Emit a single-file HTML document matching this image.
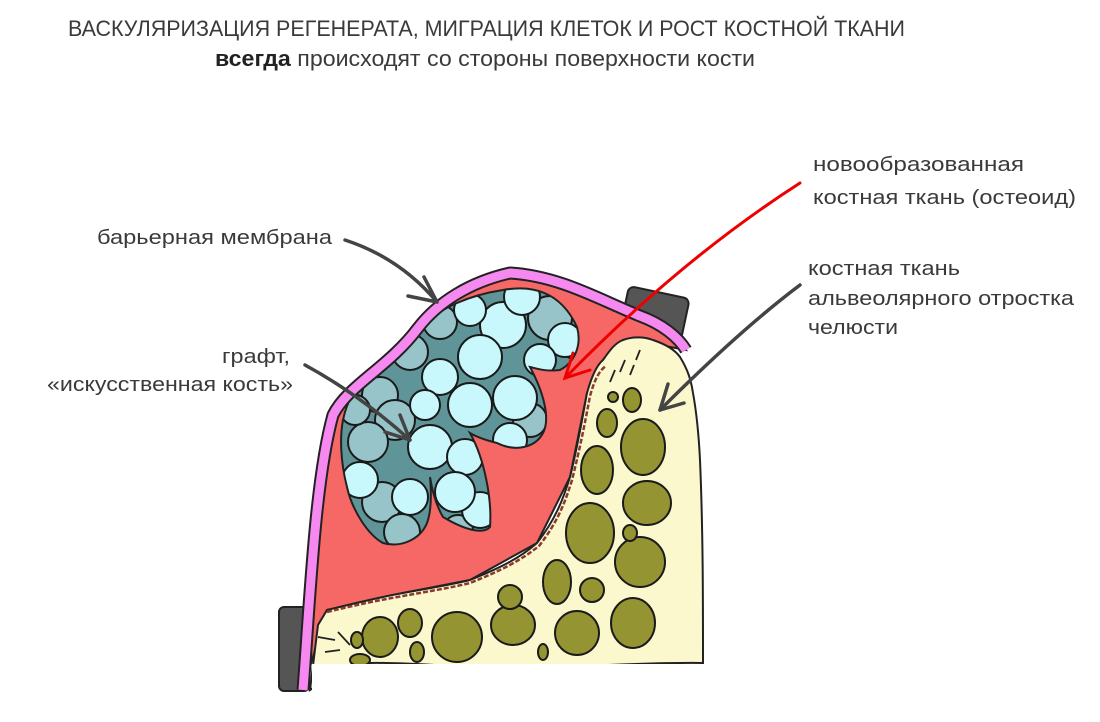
<!DOCTYPE html>
<html><head><meta charset="utf-8"><style>
html,body{margin:0;padding:0;background:#fff;width:1100px;height:722px;overflow:hidden}
svg{display:block}
text{font-family:"Liberation Sans",sans-serif;fill:#3a3a3a}
</style></head><body>
<svg width="1100" height="722" viewBox="0 0 1100 722" xmlns="http://www.w3.org/2000/svg">
<defs>
<clipPath id="gc"><path id="gs" d="M503 290 C530 285 560 290 577 327 C582 345 575 362 560 370 C545 372 535 368 530 367 C545 395 550 420 543 433 C535 448 515 452 497 443 C485 440 475 436 470 433 C485 460 492 500 490 527 C485 533 470 533 443 517 C436 505 432 490 430 477 C432 500 430 515 427 523 C420 540 400 548 383 543 C368 535 352 510 347 487 C340 460 340 435 343 420 C346 405 352 395 353 393 C362 380 372 372 380 370 C395 352 408 338 420 327 C435 315 445 308 457 303 C475 295 490 292 503 290 Z"/></clipPath>
</defs>
<!-- titles -->
<text x="68" y="36" font-size="22" textLength="837" lengthAdjust="spacingAndGlyphs">ВАСКУЛЯРИЗАЦИЯ РЕГЕНЕРАТА, МИГРАЦИЯ КЛЕТОК И РОСТ КОСТНОЙ ТКАНИ</text>
<text x="215" y="66" font-size="22" textLength="540" lengthAdjust="spacingAndGlyphs"><tspan font-weight="bold" fill="#222">всегда</tspan> происходят со стороны поверхности кости</text>
<!-- labels -->
<g font-size="20">
<text x="97" y="244" textLength="235" lengthAdjust="spacingAndGlyphs">барьерная мембрана</text>
<text x="222" y="363" textLength="68" lengthAdjust="spacingAndGlyphs">графт,</text>
<text x="47" y="391" textLength="246" lengthAdjust="spacingAndGlyphs">«искусственная кость»</text>
<text x="813" y="171" textLength="211" lengthAdjust="spacingAndGlyphs">новообразованная</text>
<text x="813" y="204" textLength="263" lengthAdjust="spacingAndGlyphs">костная ткань (остеоид)</text>
<text x="808" y="275" textLength="152" lengthAdjust="spacingAndGlyphs">костная ткань</text>
<text x="808" y="305" textLength="266" lengthAdjust="spacingAndGlyphs">альвеолярного отростка</text>
<text x="808" y="334" textLength="90" lengthAdjust="spacingAndGlyphs">челюсти</text>
</g>
<!-- tabs -->
<rect x="624" y="292" width="62" height="42" rx="6" fill="#555" stroke="#222" stroke-width="2" transform="rotate(12 655 313)"/>
<rect x="279" y="607" width="30" height="84" rx="5" fill="#555" stroke="#222" stroke-width="2"/>
<!-- red area -->
<path d="M303 690 C310 600 315 480 333 415 C348 385 388 368 418 328 C438 302 470 282 510 273 C560 276 600 300 640 316 C662 324 678 337 686 350 L660 345 L623 340 L603 360 L587 393 L570 477 L537 543 L470 580 L403 593 L327 610 Z" fill="#f56866" stroke="#222" stroke-width="2"/>
<!-- bone -->
<path d="M310 690 L318 625 L327 610 C360 602 380 597 403 593 C430 588 450 585 470 580 C500 568 520 558 537 543 C555 520 563 500 570 477 C578 445 582 420 587 393 C592 375 597 365 603 360 C610 350 615 343 623 340 C635 336 645 337 653 340 C665 344 675 350 680 357 C688 370 691 380 693 393 C697 415 699 440 700 460 C703 530 703 600 703 663 C640 662 580 668 503 667 C460 668 410 662 370 663 C345 668 325 680 310 690 Z" fill="#fbf8ce" stroke="#222" stroke-width="2"/>
<path d="M327 612 C360 604 380 600 403 596 C430 591 450 588 470 583 C500 571 520 561 539 546 C557 523 565 503 572 480 C580 448 585 423 590 396 C595 378 600 370 606 366" fill="none" stroke="#8b3a2f" stroke-width="2.5" stroke-dasharray="5 2"/>
<!-- dashes -->
<g stroke="#222" stroke-width="1.8" fill="none">
<path d="M318 637 L335 640"/><path d="M325 652 L340 650"/><path d="M338 632 L350 645"/>
<path d="M620 372 L625 360"/><path d="M630 375 L634 365"/><path d="M610 382 L615 370"/><path d="M640 350 L636 360"/>
</g>
<!-- bone pores -->
<g fill="#949433" stroke="#1a1a1a" stroke-width="2">
<ellipse cx="643" cy="447" rx="22" ry="28"/>
<ellipse cx="597" cy="470" rx="16" ry="24"/>
<ellipse cx="647" cy="503" rx="24" ry="22"/>
<ellipse cx="590" cy="533" rx="24" ry="30"/>
<ellipse cx="640" cy="562" rx="25" ry="25"/>
<ellipse cx="630" cy="533" rx="7" ry="8"/>
<ellipse cx="557" cy="582" rx="14" ry="22"/>
<ellipse cx="592" cy="590" rx="12" ry="12"/>
<ellipse cx="633" cy="623" rx="22" ry="25"/>
<ellipse cx="577" cy="633" rx="22" ry="22"/>
<ellipse cx="513" cy="625" rx="22" ry="20"/>
<ellipse cx="457" cy="637" rx="25" ry="25"/>
<ellipse cx="410" cy="623" rx="12" ry="14"/>
<ellipse cx="380" cy="637" rx="18" ry="20"/>
<ellipse cx="357" cy="640" rx="6" ry="8"/>
<ellipse cx="613" cy="397" rx="5" ry="5"/>
<ellipse cx="632" cy="400" rx="9" ry="12"/>
<ellipse cx="607" cy="423" rx="10" ry="14"/>
<ellipse cx="510" cy="597" rx="12" ry="12"/>
<ellipse cx="417" cy="652" rx="7" ry="10"/>
<ellipse cx="360" cy="660" rx="10" ry="6"/>
<ellipse cx="543" cy="652" rx="5" ry="8"/>
</g>
<rect x="312" y="664" width="420" height="60" fill="#fff"/>
<!-- graft -->
<use href="#gs" fill="#5f9598"/>
<g clip-path="url(#gc)" stroke="#1a1a1a" stroke-width="2">
<g fill="#96c4c8">
<circle cx="550" cy="318" r="22"/><circle cx="440" cy="322" r="17"/><circle cx="410" cy="352" r="18"/>
<circle cx="380" cy="395" r="18"/><circle cx="395" cy="420" r="20"/><circle cx="368" cy="442" r="20"/>
<circle cx="382" cy="502" r="20"/><circle cx="402" cy="532" r="18"/><circle cx="458" cy="530" r="15"/>
<circle cx="530" cy="420" r="17"/><circle cx="575" cy="345" r="14"/><circle cx="355" cy="410" r="15"/>
</g>
<g fill="#c8f8fb">
<circle cx="503" cy="325" r="23"/><circle cx="522" cy="297" r="18"/><circle cx="565" cy="340" r="17"/>
<circle cx="480" cy="357" r="22"/><circle cx="470" cy="405" r="22"/><circle cx="515" cy="398" r="22"/>
<circle cx="430" cy="447" r="22"/><circle cx="465" cy="457" r="18"/><circle cx="480" cy="510" r="18"/>
<circle cx="360" cy="480" r="18"/><circle cx="410" cy="497" r="18"/><circle cx="440" cy="377" r="18"/>
<circle cx="510" cy="440" r="17"/><circle cx="455" cy="492" r="20"/><circle cx="540" cy="360" r="16"/>
<circle cx="470" cy="310" r="16"/><circle cx="425" cy="405" r="15"/>
</g>
</g>
<use href="#gs" fill="none" stroke="#222" stroke-width="2"/>
<!-- membrane -->
<path d="M303 690 C310 600 315 480 333 415 C348 385 388 368 418 328 C438 302 470 282 510 273 C560 276 600 300 640 316 C662 324 678 337 686 350" fill="none" stroke="#222" stroke-width="13" stroke-linejoin="round"/>
<path d="M303 690 C310 600 315 480 333 415 C348 385 388 368 418 328 C438 302 470 282 510 273 C560 276 600 300 640 316 C662 324 678 337 686 350" fill="none" stroke="#f589f0" stroke-width="9" stroke-linejoin="round"/>
<!-- arrows -->
<g stroke="#444" stroke-width="3.5" fill="none" stroke-linecap="round" stroke-linejoin="round">
<path d="M345 240 Q400 258 437 302"/><path d="M408 296 L437 302 L424 277"/>
<path d="M305 365 Q360 395 410 440"/><path d="M385 432 L410 440 L400 415"/>
<path d="M800 285 Q740 330 660 410"/><path d="M668 384 L660 410 L684 403"/>
</g>
<g stroke="#e00" stroke-width="3" fill="none" stroke-linecap="round">
<path d="M800 183 Q680 260 565 378"/><path d="M573 353 L565 378 L590 370"/>
</g>
</svg>
</body></html>
